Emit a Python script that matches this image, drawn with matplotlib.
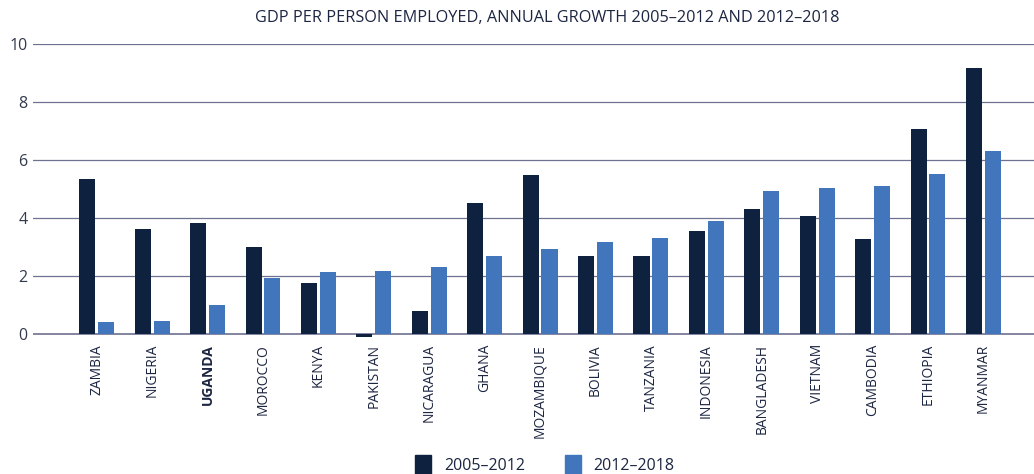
import matplotlib.pyplot as plt
import numpy as np
from matplotlib.patches import Patch

plt.rcParams['font.family'] = ['Open Sans', 'DejaVu Sans']

countries = ['ZAMBIA', 'NIGERIA', 'UGANDA', 'MOROCCO', 'KENYA', 'PAKISTAN',
             'NICARAGUA', 'GHANA', 'MOZAMBIQUE', 'BOLIVIA', 'TANZANIA',
             'INDONESIA', 'BANGLADESH', 'VIETNAM', 'CAMBODIA', 'ETHIOPIA', 'MYANMAR']
g_2005_2012 = [5.34, 3.61, 3.82, 2.99, 1.75, -0.10, 0.78, 4.51, 5.48, 2.68,
               2.68, 3.54, 4.30, 4.06, 3.27, 7.07, 9.17]
g_2012_2018 = [0.40, 0.44, 0.99, 1.92, 2.13, 2.16, 2.30, 2.68, 2.92, 3.16,
               3.30, 3.89, 4.93, 5.03, 5.10, 5.51, 6.31]
yticks = [0, 2, 4, 6, 8, 10]

dark = '#0e2240'
light = '#4276bc'
grid = '#6e7190'
txt = '#1c2541'

fig = plt.figure(figsize=(10.34, 4.74), dpi=100)
ax = fig.add_axes([0.0319, 0.277, 0.968, 0.630])

x = np.arange(len(countries))
w = 0.29
ax.bar(x - 0.16, g_2005_2012, width=w, color=dark, zorder=3)
ax.bar(x + 0.18, g_2012_2018, width=w, color=light, zorder=3)

ax.set_ylim(-0.3, 10)
ax.set_xlim(-1.14, 16.92)
ax.set_yticks(yticks)
ax.set_yticklabels([str(v) for v in yticks], fontsize=11.5, color='#333a4d')
for v in yticks:
    ax.axhline(v, color=grid, lw=1.2 if v == 0 else 0.9, zorder=2)

ax.set_xticks(x + 0.01)
ax.set_xticklabels(countries, rotation=90, fontsize=10, color=txt)
for lab in ax.get_xticklabels():
    if lab.get_text() == 'UGANDA':
        lab.set_fontweight('bold')
ax.tick_params(axis='both', length=0)
ax.tick_params(axis='x', pad=1)
ax.tick_params(axis='y', pad=4)
for s in ax.spines.values():
    s.set_visible(False)

fig.text(0.529, 0.963, 'GDP PER PERSON EMPLOYED, ANNUAL GROWTH 2005\u20132012 AND 2012\u20132018',
         ha='center', va='center', fontsize=11.7, color=txt)

handles = [Patch(color=dark, label='2005\u20132012'), Patch(color=light, label='2012\u20132018')]
fig.legend(handles=handles, loc='lower center', bbox_to_anchor=(0.527, -0.03), ncol=2,
           frameon=False, fontsize=11.5, handlelength=1.0, handleheight=1.4,
           columnspacing=2.5, handletextpad=0.8, labelcolor=txt)

fig.savefig('out.png', dpi=100)
